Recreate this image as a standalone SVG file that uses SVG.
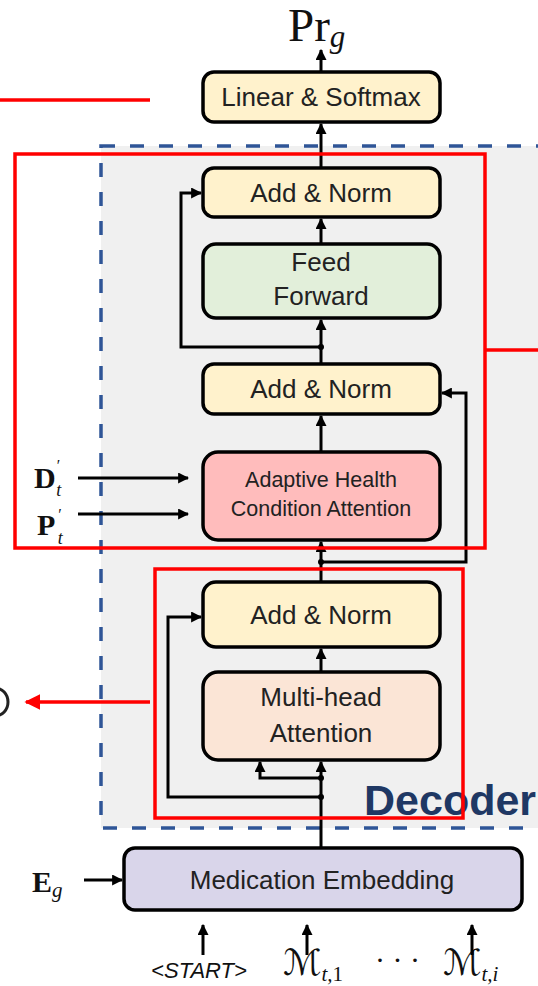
<svg xmlns="http://www.w3.org/2000/svg" width="538" height="986" viewBox="0 0 538 986">
<style>
.box{stroke:#000;stroke-width:3.5}
.lbl{font-family:"Liberation Sans",Arial,sans-serif;font-size:26px;fill:#222;text-anchor:middle}
.sm{font-size:21.5px}
.con{fill:none;stroke:#000;stroke-width:3}
.red{fill:none;stroke:#ff0000;stroke-width:3.5}
.math{font-family:"Liberation Serif","DejaVu Serif",serif;fill:#111}
</style>
<defs>
<marker id="ah" viewBox="0 0 10 10" refX="9" refY="5" markerWidth="11" markerHeight="11" markerUnits="userSpaceOnUse" orient="auto"><path d="M0,0 L10,5 L0,10 z" fill="#000"/></marker>
<marker id="ahr" viewBox="0 0 10 10" refX="9" refY="5" markerWidth="16" markerHeight="16" markerUnits="userSpaceOnUse" orient="auto"><path d="M0,0 L10,5 L0,10 z" fill="#ff0000"/></marker>
</defs>
<rect width="538" height="986" fill="#fff"/>
<g id="decoder">
<rect x="101" y="146" width="450" height="682" fill="#f0f0f0" stroke="#2f5597" stroke-width="3.5" stroke-dasharray="14 15"/>
<text x="364" y="815" font-family="Liberation Sans,Arial,sans-serif" font-weight="bold" font-size="43" fill="#1f3864">Decoder</text>
</g>
<g id="pr">
<text class="math" x="288" y="41" font-size="47">Pr<tspan font-style="italic" font-size="31" dy="6">g</tspan></text>
</g>
<g id="linear"><rect class="box" x="203" y="72" width="237" height="50" rx="11" fill="#fff2cc"/><text class="lbl" x="321" y="106">Linear &amp; Softmax</text></g>
<g id="addnorm3"><rect class="box" x="203" y="168" width="237" height="49" rx="11" fill="#fff2cc"/><text class="lbl" x="321" y="202">Add &amp; Norm</text></g>
<g id="ffn"><rect class="box" x="203" y="244" width="237" height="74" rx="13" fill="#e2efda"/><text class="lbl" x="321" y="271">Feed</text><text class="lbl" x="321" y="305">Forward</text></g>
<g id="addnorm2"><rect class="box" x="203" y="364" width="237" height="50" rx="11" fill="#fff2cc"/><text class="lbl" x="321" y="398">Add &amp; Norm</text></g>
<g id="ahca"><rect class="box" x="203" y="452" width="237" height="88" rx="15" fill="#ffbcbc"/><text class="lbl sm" x="321" y="487">Adaptive Health</text><text class="lbl sm" x="321" y="516">Condition Attention</text></g>
<g id="addnorm1"><rect class="box" x="203" y="582" width="237" height="65" rx="13" fill="#fff2cc"/><text class="lbl" x="321" y="624">Add &amp; Norm</text></g>
<g id="mha"><rect class="box" x="203" y="672" width="237" height="88" rx="15" fill="#fbe5d6"/><text class="lbl" x="321" y="706">Multi-head</text><text class="lbl" x="321" y="742">Attention</text></g>
<g id="embed"><rect class="box" x="124" y="848" width="398" height="62" rx="11" fill="#d9d5ea"/><text class="lbl" x="322" y="889">Medication Embedding</text></g>
<g id="inputs">
<text class="math" x="34" y="488" font-size="30"><tspan font-weight="bold">D</tspan><tspan font-size="16" dx="1" dy="-17">′</tspan><tspan font-size="18" font-style="italic" dx="-4" dy="25">t</tspan></text>
<text class="math" x="37" y="535" font-size="30"><tspan font-weight="bold">P</tspan><tspan font-size="16" dx="3" dy="-15">′</tspan><tspan font-size="18" font-style="italic" dx="-4" dy="24">t</tspan></text>
<text class="math" x="32" y="892" font-size="30"><tspan font-weight="bold">E</tspan><tspan font-size="21" font-style="italic" dy="5">g</tspan></text>
<text x="199" y="978" font-family="Liberation Sans,Arial,sans-serif" font-style="italic" font-size="22" fill="#111" text-anchor="middle">&lt;START&gt;</text>
<text x="283" y="975" font-family="DejaVu Sans,serif" font-size="36" fill="#111">ℳ<tspan font-family="Liberation Serif,serif" font-style="italic" font-size="21" dy="6">t,</tspan><tspan font-family="Liberation Serif,serif" font-size="21">1</tspan></text>
<text x="375" y="970" font-family="Liberation Serif,serif" font-size="30" fill="#111">· · ·</text>
<text x="443" y="975" font-family="DejaVu Sans,serif" font-size="36" fill="#111">ℳ<tspan font-family="Liberation Serif,serif" font-style="italic" font-size="21" dy="6">t,i</tspan></text>
</g>
<g id="connectors">
<path class="con" d="M321,72 L321,50" marker-end="url(#ah)"/>
<path class="con" d="M321,168 L321,124" marker-end="url(#ah)"/>
<path class="con" d="M321,244 L321,219" marker-end="url(#ah)"/>
<path class="con" d="M321,364 L321,320" marker-end="url(#ah)"/>
<path class="con" d="M321,347 L181,347 L181,193 L201,193" marker-end="url(#ah)"/>
<path class="con" d="M321,452 L321,416" marker-end="url(#ah)"/>
<path class="con" d="M321,582 L321,542" marker-end="url(#ah)"/>
<path class="con" d="M321,562 L466,562 L466,393 L442,393" marker-end="url(#ah)"/>
<path class="con" d="M78,478 L188,478" marker-end="url(#ah)"/>
<path class="con" d="M78,514 L188,514" marker-end="url(#ah)"/>
<path class="con" d="M321,672 L321,649" marker-end="url(#ah)"/>
<path class="con" d="M321,848 L321,762" marker-end="url(#ah)"/>
<path class="con" d="M321,778 L260,778 L260,762" marker-end="url(#ah)"/>
<path class="con" d="M321,797 L168,797 L168,617 L201,617" marker-end="url(#ah)"/>
<path class="con" d="M84,880 L122,880" marker-end="url(#ah)"/>
<path class="con" d="M203,955 L203,925" marker-end="url(#ah)"/>
<path class="con" d="M307,955 L307,925" marker-end="url(#ah)"/>
<path class="con" d="M472,955 L472,925" marker-end="url(#ah)"/>
<circle cx="321" cy="347" r="3" fill="#000"/>
<circle cx="321" cy="562" r="3" fill="#000"/>
<circle cx="321" cy="778" r="3" fill="#000"/>
<circle cx="321" cy="797" r="3" fill="#000"/>
</g>
<g id="highlights">
<rect class="red" x="15" y="154" width="470" height="394"/>
<rect class="red" x="155" y="569" width="308" height="249"/>
<path class="red" d="M0,100 L150,100"/>
<path class="red" d="M485,350 L538,350"/>
<path class="red" d="M150,702 L26,702" marker-end="url(#ahr)"/>
<path d="M-5,688 A13,14 0 0 1 -5,716" fill="none" stroke="#222" stroke-width="3"/>
</g>
</svg>
